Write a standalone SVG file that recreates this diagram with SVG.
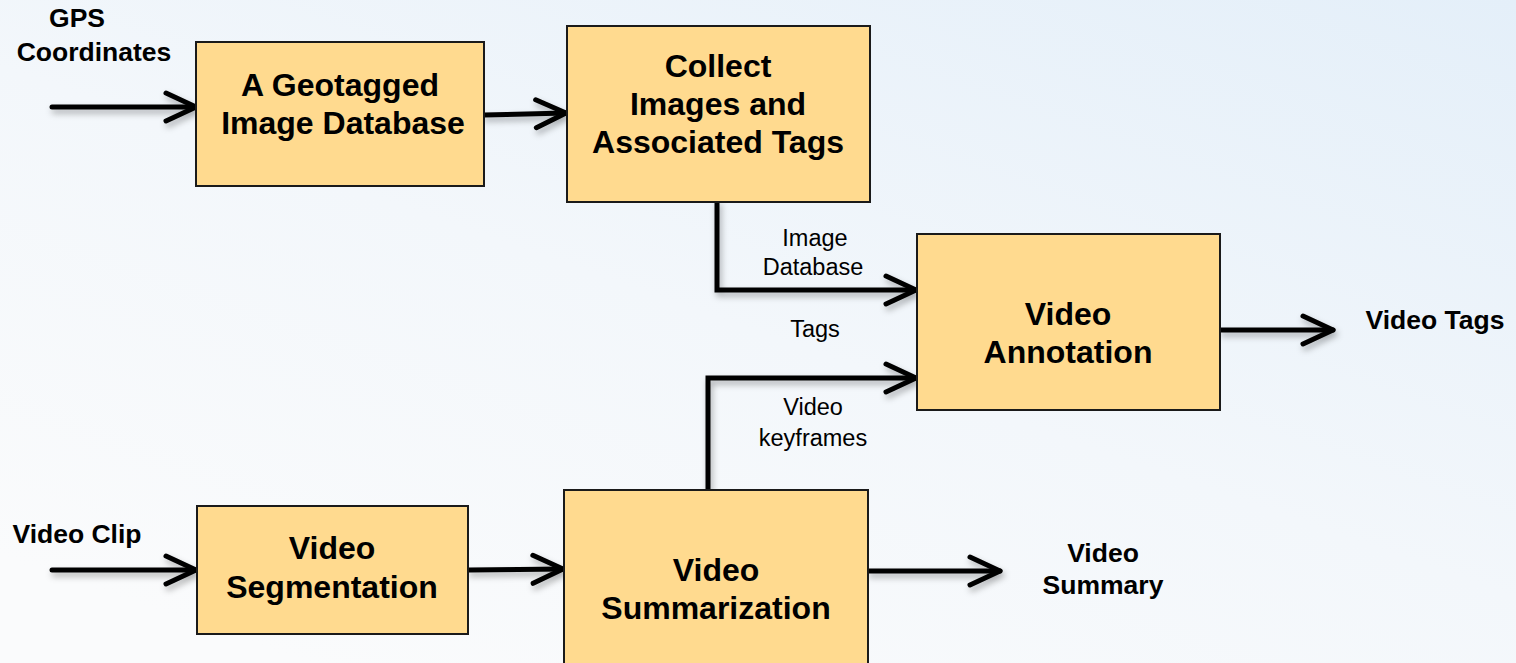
<svg xmlns="http://www.w3.org/2000/svg" width="1516" height="663" viewBox="0 0 1516 663">
<defs>
<linearGradient id="bg" x1="1" y1="0" x2="0.2" y2="1">
<stop offset="0" stop-color="#e4eff9"/>
<stop offset="0.55" stop-color="#f3f7fb"/>
<stop offset="1" stop-color="#fafbfc"/>
</linearGradient>
<filter id="sh" x="-10%" y="-50%" width="120%" height="200%">
<feDropShadow dx="2" dy="4" stdDeviation="3" flood-color="#000" flood-opacity="0.3"/>
</filter>
<marker id="arr" markerUnits="userSpaceOnUse" viewBox="-40 -22 44 44" markerWidth="44" markerHeight="44" refX="0" refY="0" orient="auto" overflow="visible">
<path d="M-30,-14 L0,0 L-30,14" fill="none" stroke="#000" stroke-width="5" stroke-linecap="round" stroke-linejoin="round"/>
</marker>
<style>
.box{fill:#ffda8f;stroke:#1a1a1a;stroke-width:2}
.big{font-family:"Liberation Sans",Arial,sans-serif;font-weight:bold;font-size:32px;fill:#000;text-anchor:middle}
.lbl{font-family:"Liberation Sans",Arial,sans-serif;font-weight:bold;font-size:26.5px;fill:#000;text-anchor:middle}
.sm{font-family:"Liberation Sans",Arial,sans-serif;font-size:23.5px;fill:#000;text-anchor:middle}
.con{fill:none;stroke:#000;stroke-width:5;stroke-linecap:round;stroke-linejoin:miter;marker-end:url(#arr)}
</style>
</defs>
<rect x="0" y="0" width="1516" height="663" fill="url(#bg)"/>

<g id="connectors" filter="url(#sh)">
<path class="con" d="M52,107 L196,107"/>
<path class="con" d="M484,115 L566,113"/>
<path class="con" d="M717,202 L717,290 L916,290"/>
<path class="con" d="M708,490 L708,378 L916,378"/>
<path class="con" d="M1221,330 L1333,330"/>
<path class="con" d="M52,570 L196,570"/>
<path class="con" d="M469,570 L563,569"/>
<path class="con" d="M869,571 L1000,571"/>
</g>

<g id="n-geotagged">
<rect class="box" x="196" y="42" width="288" height="144"/>
<text class="big" x="340" y="96">A Geotagged</text>
<text class="big" x="343" y="134">Image Database</text>
</g>
<g id="n-collect">
<rect class="box" x="567" y="26" width="303" height="176"/>
<text class="big" x="718" y="77">Collect</text>
<text class="big" x="718" y="115">Images and</text>
<text class="big" x="718" y="153">Associated Tags</text>
</g>
<g id="n-annotation">
<rect class="box" x="917" y="234" width="303" height="176"/>
<text class="big" x="1068" y="325">Video</text>
<text class="big" x="1068" y="363">Annotation</text>
</g>
<g id="n-segmentation">
<rect class="box" x="197" y="506" width="271" height="128"/>
<text class="big" x="332" y="559">Video</text>
<text class="big" x="332" y="598">Segmentation</text>
</g>
<g id="n-summarization">
<rect class="box" x="564" y="490" width="304" height="180"/>
<text class="big" x="716" y="581">Video</text>
<text class="big" x="716" y="619">Summarization</text>
</g>

<g id="labels">
<text class="lbl" x="77" y="27">GPS</text>
<text class="lbl" x="94" y="61">Coordinates</text>
<text class="lbl" x="77" y="543">Video Clip</text>
<text class="lbl" x="1435" y="329">Video Tags</text>
<text class="lbl" x="1103" y="562">Video</text>
<text class="lbl" x="1103" y="594">Summary</text>
<text class="sm" x="815" y="246">Image</text>
<text class="sm" x="813" y="275">Database</text>
<text class="sm" x="815" y="337">Tags</text>
<text class="sm" x="813" y="415">Video</text>
<text class="sm" x="813" y="446">keyframes</text>
</g>
</svg>
